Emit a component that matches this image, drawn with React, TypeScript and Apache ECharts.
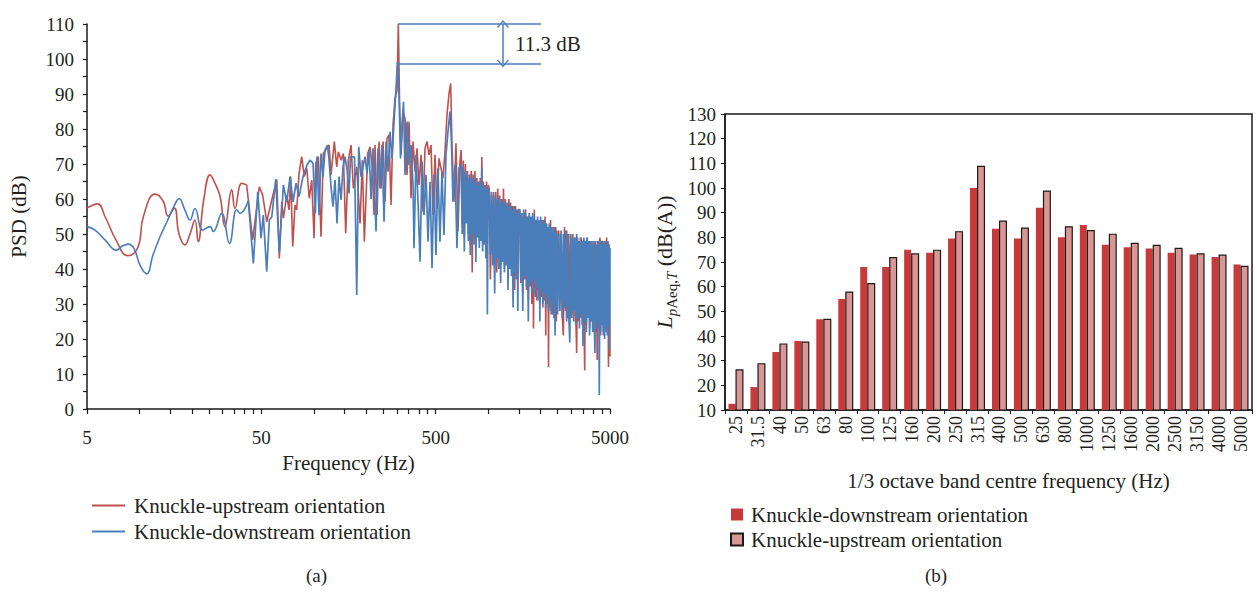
import React, { useEffect, useRef } from 'react';
import * as echarts from 'echarts';

// ---------- Panel (a): PSD spectra ----------
const UP_NAME = 'Knuckle-upstream orientation';
const DOWN_NAME = 'Knuckle-downstream orientation';

// smooth low-frequency part (Hz, dB)
const redLowFreq = [5, 5.76, 6.34, 7.33, 8.56, 9.81, 10.52, 12.27, 13.64, 14.6, 15.85, 16.85, 18.2, 19.49, 20.8, 21.7, 23.4, 25.4, 27.1, 29.0, 30.9, 33.8, 35.3, 38.6, 41.2];
const redLowDb = [57.4, 58.6, 55, 48.3, 43.8, 46.3, 54.9, 61.4, 59.5, 55.1, 57.4, 50, 46.9, 50, 54, 47.8, 60, 66.9, 64.5, 60.7, 52.1, 62.6, 57.3, 64.5, 64];

const blueLowFreq = [5, 5.56, 6.34, 7.4, 7.94, 8.63, 9.3, 10.07, 11.0, 11.95, 13.12, 14.38, 15.57, 16.9, 18.2, 19.49, 20.8, 23.05, 25.4, 26.5, 29.6, 32.8, 36.1, 37.7, 42.1];
const blueLowDb = [52.1, 51.1, 48.3, 45.4, 46.5, 47.1, 45.9, 41.1, 38.6, 44, 49.2, 53.5, 57.3, 60.1, 56.9, 54, 57.3, 51.1, 52.1, 50.7, 55.9, 47.3, 57, 55.9, 59.5];

// spiky mid-frequency part (Hz, dB)
const redMidFreq = [41.2, 44.6, 48.7, 50.9, 53.7, 57.4, 61.3, 63.4, 65.5, 66.9, 69.9, 72.1, 73.7, 75.7, 78.0, 79.8, 82.3, 85.2, 88.2, 91.1, 94.2, 97.3, 100.3, 102.6, 106.2, 110, 113.4, 118.6, 122.3, 125.5, 131.1, 135.4, 138.2, 143.3, 147.7, 152.4, 157.8, 163.5, 168.6, 176.3, 184.2, 189.8, 194.9, 203.8, 210.1, 216.6, 221.5, 224.5, 230.5, 236.7, 243, 249.5, 256.2, 263, 270, 277.3, 284.7, 292.3, 300.1, 305.4, 310.2, 316.5, 324.9, 333.6, 342.5, 351.7, 361.1, 370.8, 380.7, 390.9, 401.4, 412.1, 423.1, 434.4, 446.1, 458, 470.3, 482.8, 495.8, 508.7, 522.3, 536.3, 550.6, 565.4, 580.5, 596, 609.6, 620.1, 636.7, 653.7, 671.3, 689.2];
const redMidDb = [64, 48.3, 63.5, 61.1, 53.5, 59.7, 65.6, 43, 59.2, 54.5, 61.1, 56.9, 66.4, 46.4, 58.3, 56.9, 67.3, 72.1, 66.4, 68.8, 60.2, 65.4, 48.8, 70.2, 72.1, 49.2, 73, 74.5, 75.4, 66.9, 76.4, 69.2, 73.5, 71.1, 73, 50.2, 71.1, 75.4, 63, 69.2, 53, 71.1, 47.8, 73, 74.9, 68.8, 55.4, 75.4, 55.4, 76.4, 63, 76.4, 59.2, 77.3, 78.3, 58.3, 81.1, 88.8, 91, 110, 88.3, 72.6, 85, 83, 66.9, 82.1, 60.2, 76.4, 67.8, 74.5, 64, 72.6, 56.4, 74.5, 76.4, 72.6, 75.4, 55.4, 72.6, 57.3, 71.6, 68.8, 65.9, 73.5, 84, 90, 93, 75.4, 59.2, 75.9, 50.7, 70.7];

const blueMidFreq = [42.1, 45.0, 47.7, 49.8, 51.3, 53.7, 55.6, 57.4, 60.5, 63.4, 66.9, 69.9, 73.1, 76, 79.1, 82.3, 86.7, 91.4, 95.1, 99, 102, 104.3, 107.1, 110, 112.9, 116, 119.9, 122.3, 125.5, 128.9, 132.3, 135.9, 139.5, 143.3, 147.1, 151, 155.1, 159.2, 162.4, 171.2, 176.3, 181, 186.6, 191.6, 196.7, 202, 207.4, 212.9, 218.6, 227.4, 233.5, 239.8, 246.2, 252.8, 259.6, 266.5, 273.7, 281, 288.5, 296.2, 302.1, 308.2, 314.3, 320.6, 327, 333.6, 342.5, 351.7, 361.1, 370.8, 375.7, 385.8, 396.1, 406.7, 417.6, 428.8, 440.2, 452, 464.1, 476.5, 489.3, 502, 515.4, 529.2, 543.4, 557.9, 572.9, 588.2, 604, 616, 628.4, 645.2, 662.4, 680.2];
const blueMidDb = [59.5, 41.6, 62.1, 48.8, 55.4, 39.2, 54, 54.9, 65.6, 44.5, 64, 59.2, 66.4, 59.2, 64.5, 60.7, 66.4, 69.7, 71.1, 70.2, 55.9, 72.1, 55.4, 73, 66.4, 74, 75.4, 71.1, 63.5, 57.8, 65.4, 53, 66.4, 59.7, 69.2, 72.1, 68.3, 61.6, 72.1, 72, 32.6, 74.9, 66.4, 69.2, 72.1, 67.3, 74, 60, 74.5, 50.7, 74.5, 63, 75.4, 53.5, 76.4, 67.8, 79.2, 71.6, 82.1, 91.6, 99.2, 89.7, 71.6, 81.1, 87.8, 66.9, 82.1, 69.7, 75.4, 64, 45.9, 72.6, 59.2, 42.1, 70.7, 55.4, 66.9, 47.8, 64.9, 40.2, 66.9, 44, 68.8, 47.8, 67.8, 49.7, 72.6, 79.2, 85, 76.4, 59.2, 69.7, 45.9, 68.8];

// dense high-frequency part, shared frequency bins (Hz)
const denseFreq = [
  700, 710, 720, 730, 740, 750, 760, 770, 780, 790, 800, 810, 820, 830, 840, 850, 860, 870, 880, 890, 900, 910, 920, 930, 940, 950, 960, 970, 980, 990, 1000,
  1015, 1030, 1045, 1060, 1075, 1090, 1105, 1120, 1135, 1150, 1165, 1180, 1195, 1210, 1225, 1240, 1255, 1270, 1285, 1300, 1315, 1330, 1345, 1360, 1375, 1390, 1405, 1420, 1435, 1450, 1465, 1480, 1495,
  1520, 1540, 1560, 1580, 1600, 1620, 1640, 1660, 1680, 1700, 1720, 1740, 1760, 1780, 1800, 1820, 1840, 1860, 1880, 1900, 1920, 1940, 1960, 1980, 2000, 2020, 2040, 2060, 2080, 2100, 2120, 2140, 2160, 2180, 2200, 2220, 2240, 2260, 2280, 2300, 2320, 2340, 2360, 2380, 2400, 2420, 2440, 2460, 2480, 2500,
  2540, 2580, 2620, 2660, 2700, 2740, 2780, 2820, 2860, 2900, 2940, 2980, 3020, 3060, 3100, 3140, 3180, 3220, 3260, 3300, 3340, 3380, 3420, 3460, 3500, 3540, 3580, 3620, 3660, 3700, 3740, 3780, 3820, 3860, 3900, 3940, 3980, 4020, 4060, 4100, 4140, 4180, 4220, 4260, 4300, 4340, 4380, 4420, 4460, 4500, 4540, 4580, 4620, 4660, 4700, 4740, 4780, 4820, 4860, 4900, 4940, 4980, 5000,
];
const blueDenseDb = [
  70, 50, 69, 45, 68, 53, 67, 48, 66, 44, 67, 50, 66, 47, 65, 42, 66, 49, 64, 46, 65, 48, 69, 45, 64, 47, 63, 43, 64, 27, 63,
  62, 44, 61, 41, 62, 33, 60, 43, 61, 40, 60, 36, 59, 42, 60, 39, 59, 41, 58, 34, 59, 40, 58, 38, 57, 29, 58, 39, 57, 37, 56, 28, 57,
  57, 37, 56, 28, 57, 38, 56, 35, 55, 25, 56, 36, 55, 33, 56, 37, 55, 32, 54, 35, 55, 31, 54, 25, 55, 34, 54, 30, 53, 33, 54, 29, 53, 32, 52, 28, 53, 31, 52, 27, 52, 30, 51, 26, 52, 21, 51, 29, 50, 27,
  50, 28, 51, 26, 50, 29, 51, 25, 50, 27, 19, 50, 26, 49, 28, 49, 24, 50, 26, 48, 23, 49, 27, 48, 18, 49, 25, 48, 22, 49, 26, 48, 21, 48, 25, 47, 22, 48, 24, 16, 48, 23, 47, 25, 48, 4, 48, 22, 47, 24, 48, 21, 47, 20, 48, 23, 47, 21, 48, 24, 47, 17, 46,
];
const redDenseDb = [
  74, 53, 71, 49, 70, 55, 68, 50, 67, 47, 68, 39, 67, 50, 68, 46, 66, 52, 65, 48, 66, 50, 72, 47, 65, 49, 64, 46, 65, 48, 64,
  63, 37, 62, 45, 61, 40, 62, 39, 63, 42, 61, 41, 60, 44, 63, 40, 60, 43, 59, 39, 60, 42, 59, 40, 58, 41, 58, 34, 58, 38, 57, 39, 57,
  56, 36, 55, 33, 56, 37, 57, 34, 55, 31, 55, 35, 54, 30, 55, 23, 57, 33, 54, 31, 54, 34, 53, 30, 54, 32, 53, 29, 54, 31, 55, 21, 53, 30, 52, 12, 52, 29, 54, 28, 51, 27, 52, 30, 51, 26, 52, 25, 51, 28,
  51, 30, 50, 27, 21, 52, 28, 51, 26, 50, 28, 49, 27, 50, 25, 49, 27, 16, 49, 25, 48, 26, 49, 24, 48, 27, 11, 48, 24, 49, 26, 48, 23, 47, 25, 48, 22, 47, 24, 48, 22, 47, 14, 48, 23, 47, 49, 21, 48, 24, 47, 22, 48, 25, 47, 22, 49, 23, 48, 12, 47, 20, 15,
];

// axis marks of panel (a)
const freqLabelValues = [5, 50, 500, 5000];
const freqTickValues = [5, 10, 15, 20, 25, 30, 35, 40, 45, 50, 100, 150, 200, 250, 300, 350, 400, 450, 500, 1000, 1500, 2000, 2500, 3000, 3500, 4000, 4500, 5000];

// peak-difference annotation
const peakLevels = [110, 98.7];
const peakSpanFreq = [304, 2010];
const arrowFreq = 1216;
const peakDiffLabel = '11.3 dB';

// ---------- Panel (b): 1/3 octave bands ----------
const bandLabels = ['25', '31.5', '40', '50', '63', '80', '100', '125', '160', '200', '250', '315', '400', '500', '630', '800', '1000', '1250', '1600', '2000', '2500', '3150', '4000', '5000'];
const downstreamLevels = [12.5, 19.3, 33.5, 38, 46.8, 55, 68, 68, 75, 73.8, 79.5, 100, 83.5, 79.5, 92, 80, 85, 77, 76, 75.5, 73.8, 73, 72, 69];
const upstreamLevels = [26.5, 29, 37, 37.8, 47, 58, 61.5, 72, 73.5, 75, 82.5, 109, 86.8, 84, 99, 84.5, 83, 81.5, 77.8, 77, 75.8, 73.5, 73, 68.5];

const FONT = "'Liberation Serif', 'Times New Roman', serif";
const TXT = '#231f20';
const AX = '#1a1a1a';
const RED = '#c0504d';
const BLUE = '#4a7ebb';
const BAR_RED = '#c8393a';
const BAR_PINK = '#d99694';
const CHEVRON = 'path://M6,0 L12,7 L11,8 L6,2 L1,8 L0,7 Z';

const LOG = (f: number) => Math.log10(f);
const pairs = (fs: number[], ds: number[]) => fs.map((f, i) => [LOG(f), ds[i]]);

export default function App() {
  const ref = useRef<HTMLDivElement>(null);

  useEffect(() => {
    if (!ref.current) return;
    const chart = echarts.init(ref.current, undefined, { renderer: 'svg' });
    const tickLabel = { fontSize: 19, fontFamily: FONT, color: TXT };
    const nameStyle = { fontSize: 21, fontFamily: FONT, color: TXT };

    const option: any = {
      animation: false,
      textStyle: { fontFamily: FONT },
      grid: [
        { left: 87, top: 24, width: 523, height: 385 },
        { left: 725, top: 114, width: 527, height: 296, show: true, borderColor: AX, borderWidth: 1.5, backgroundColor: 'transparent' },
      ],
      xAxis: [
        {
          gridIndex: 0,
          type: 'value',
          min: LOG(5),
          max: LOG(5000),
          axisLine: { show: true, lineStyle: { color: AX, width: 1.5 } },
          axisTick: { show: true, length: 5, customValues: freqTickValues.map(LOG), lineStyle: { color: AX, width: 1.2 } },
          axisLabel: {
            ...tickLabel,
            margin: 19,
            customValues: freqLabelValues.map(LOG),
            formatter: (v: number) => String(Math.round(Math.pow(10, v))),
          },
          splitLine: { show: false },
          name: 'Frequency (Hz)',
          nameLocation: 'middle',
          nameGap: 43,
          nameTextStyle: nameStyle,
        },
        {
          gridIndex: 1,
          type: 'category',
          data: bandLabels,
          axisLine: { show: true, lineStyle: { color: AX, width: 1.5 } },
          axisTick: { show: true, length: 4, alignWithLabel: false, lineStyle: { color: AX } },
          axisLabel: { ...tickLabel, fontSize: 18, rotate: 90, interval: 0, margin: 6 },
          name: '1/3 octave band centre frequency (Hz)',
          nameLocation: 'middle',
          nameGap: 60,
          nameTextStyle: { ...nameStyle, padding: [0, 0, 0, 40] },
        },
      ],
      yAxis: [
        {
          gridIndex: 0,
          type: 'value',
          min: 0,
          max: 110,
          interval: 10,
          axisLine: { show: true, lineStyle: { color: AX, width: 1.5 } },
          axisTick: { show: true, length: 4, lineStyle: { color: AX, width: 1.2 } },
          minorTick: { show: true, splitNumber: 2, length: 4, lineStyle: { color: AX, width: 1.2 } },
          axisLabel: { ...tickLabel, margin: 13 },
          splitLine: { show: false },
          name: 'PSD (dB)',
          nameLocation: 'middle',
          nameRotate: 90,
          nameGap: 58,
          nameTextStyle: nameStyle,
        },
        {
          gridIndex: 1,
          type: 'value',
          min: 10,
          max: 130,
          interval: 10,
          axisLine: { show: true, lineStyle: { color: AX, width: 1.5 } },
          axisTick: { show: true, length: 4, lineStyle: { color: AX } },
          axisLabel: { ...tickLabel, margin: 9 },
          splitLine: { show: false },
          name: '{i|L}{si|p}{s|Aeq,}{si|T}{n| (dB(A))}',
          nameLocation: 'middle',
          nameRotate: 90,
          nameGap: 46,
          nameTextStyle: {
            ...nameStyle,
            rich: {
              i: { fontSize: 22, fontStyle: 'italic', fontFamily: FONT, color: TXT, lineHeight: 30, verticalAlign: 'middle' },
              si: { fontSize: 15, fontStyle: 'italic', fontFamily: FONT, color: TXT, lineHeight: 15, verticalAlign: 'bottom' },
              s: { fontSize: 15, fontFamily: FONT, color: TXT, lineHeight: 15, verticalAlign: 'bottom' },
              n: { fontSize: 22, fontFamily: FONT, color: TXT, lineHeight: 30, verticalAlign: 'middle' },
            },
          },
        },
      ],
      legend: [
        {
          orient: 'vertical',
          left: 87,
          top: 490,
          icon: 'rect',
          itemWidth: 33,
          itemHeight: 2,
          itemGap: 5,
          data: [UP_NAME, DOWN_NAME],
          textStyle: { ...nameStyle, padding: [0, 0, 0, 4] },
        },
        {
          orient: 'vertical',
          left: 725,
          top: 499,
          icon: 'rect',
          itemWidth: 12,
          itemHeight: 12,
          itemGap: 4,
          data: [DOWN_NAME + ' ', UP_NAME + ' '],
          formatter: (n: string) => n.trim(),
          textStyle: { ...nameStyle, padding: [0, 0, 0, 3] },
        },
      ],
      graphic: [
        { type: 'text', left: 306, top: 566, style: { text: '(a)', fontSize: 19, fontFamily: FONT, fill: TXT } },
        { type: 'text', left: 925, top: 566, style: { text: '(b)', fontSize: 19, fontFamily: FONT, fill: TXT } },
      ],
      series: [
        {
          type: 'line', name: UP_NAME, xAxisIndex: 0, yAxisIndex: 0,
          data: pairs(redLowFreq, redLowDb), smooth: 0.45, symbol: 'none', showSymbol: false,
          color: RED, lineStyle: { color: RED, width: 1.6 }, itemStyle: { color: RED },
        },
        {
          type: 'line', name: UP_NAME, xAxisIndex: 0, yAxisIndex: 0,
          data: pairs(redMidFreq, redMidDb).concat(pairs(denseFreq, redDenseDb)), symbol: 'none', showSymbol: false,
          color: RED, lineStyle: { color: RED, width: 1.6 }, itemStyle: { color: RED },
        },
        {
          type: 'line', name: DOWN_NAME, xAxisIndex: 0, yAxisIndex: 0,
          data: pairs(blueLowFreq, blueLowDb), smooth: 0.45, symbol: 'none', showSymbol: false,
          color: BLUE, lineStyle: { color: BLUE, width: 1.6 }, itemStyle: { color: BLUE },
        },
        {
          type: 'line', name: DOWN_NAME, xAxisIndex: 0, yAxisIndex: 0,
          data: pairs(blueMidFreq, blueMidDb).concat(pairs(denseFreq, blueDenseDb)), symbol: 'none', showSymbol: false,
          color: BLUE, lineStyle: { color: BLUE, width: 1.7 }, itemStyle: { color: BLUE },
          markLine: {
            silent: true,
            symbol: ['none', 'none'],
            label: { show: false },
            lineStyle: { color: BLUE, width: 1.5, type: 'solid' },
            data: [
              [{ coord: [LOG(peakSpanFreq[0]), peakLevels[0]] }, { coord: [LOG(peakSpanFreq[1]), peakLevels[0]] }],
              [{ coord: [LOG(peakSpanFreq[0]), peakLevels[1]] }, { coord: [LOG(peakSpanFreq[1]), peakLevels[1]] }],
              [
                { coord: [LOG(arrowFreq), peakLevels[0]], symbol: CHEVRON, symbolSize: [12, 8] },
                { coord: [LOG(arrowFreq), peakLevels[1]], symbol: CHEVRON, symbolSize: [12, 8] },
              ],
            ],
          },
          markPoint: {
            silent: true,
            symbol: 'circle',
            symbolSize: 0,
            label: { show: true, position: 'right', distance: 12, formatter: peakDiffLabel, ...nameStyle },
            data: [{ coord: [LOG(arrowFreq), (peakLevels[0] + peakLevels[1]) / 2] }],
          },
        },
        {
          type: 'bar', name: DOWN_NAME + ' ', xAxisIndex: 1, yAxisIndex: 1,
          data: downstreamLevels, barWidth: 7, barGap: '0%',
          itemStyle: { color: BAR_RED },
        },
        {
          type: 'bar', name: UP_NAME + ' ', xAxisIndex: 1, yAxisIndex: 1,
          data: upstreamLevels, barWidth: 8, barGap: '0%',
          itemStyle: { color: BAR_PINK, borderColor: AX, borderWidth: 1.2 },
        },
      ],
    };

    chart.setOption(option);
    return () => chart.dispose();
  }, []);

  return <div ref={ref} style={{ position: 'fixed', left: 0, top: 0, width: 1257, height: 595, background: '#fff' }} />;
}
